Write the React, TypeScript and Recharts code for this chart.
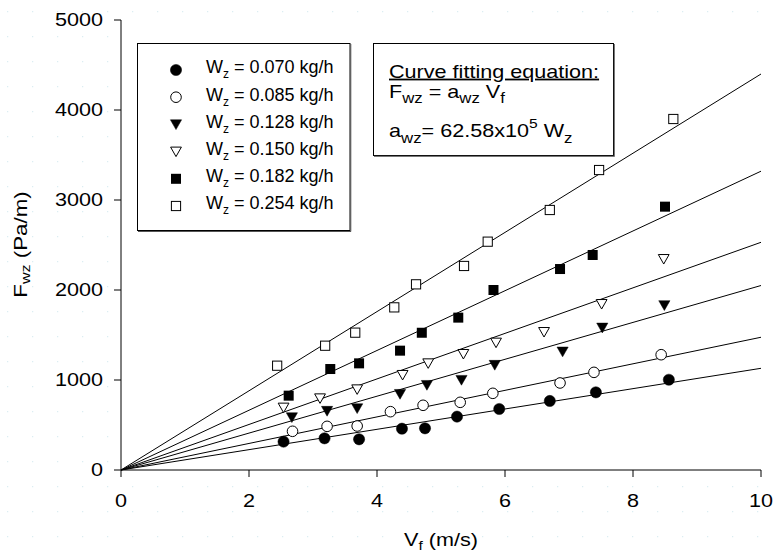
import React from 'react';
import { ScatterChart, Scatter, XAxis, YAxis } from 'recharts';

// ---- data ----
const seriesLabels = ['0.070', '0.085', '0.128', '0.150', '0.182', '0.254'];
const seriesShapes = ['circleFilled', 'circleOpen', 'triDownFilled', 'triDownOpen', 'squareFilled', 'squareOpen'];

const v070 = [2.54, 3.18, 3.72, 4.39, 4.75, 5.25, 5.91, 6.70, 7.42, 8.56];
const f070 = [315, 352, 341, 459, 463, 593, 678, 767, 863, 1003];
const v085 = [2.68, 3.22, 3.69, 4.21, 4.72, 5.30, 5.81, 6.86, 7.39, 8.44];
const f085 = [430, 485, 489, 648, 719, 752, 852, 967, 1085, 1281];
const v128 = [2.67, 3.22, 3.69, 4.36, 4.78, 5.32, 5.84, 6.90, 7.52, 8.49];
const f128 = [585, 656, 685, 844, 944, 1000, 1167, 1315, 1581, 1830];
const v150 = [2.54, 3.11, 3.69, 4.40, 4.80, 5.35, 5.86, 6.61, 7.51, 8.48];
const f150 = [693, 796, 896, 1056, 1185, 1289, 1415, 1533, 1844, 2344];
const v182 = [2.62, 3.27, 3.72, 4.36, 4.70, 5.27, 5.82, 6.86, 7.37, 8.50];
const f182 = [826, 1122, 1185, 1326, 1525, 1693, 2000, 2233, 2389, 2926];
const v254 = [2.44, 3.19, 3.66, 4.27, 4.61, 5.36, 5.73, 6.70, 7.47, 8.63];
const f254 = [1159, 1381, 1526, 1807, 2063, 2267, 2537, 2889, 3333, 3900];

const seriesV = [v070, v085, v128, v150, v182, v254];
const seriesF = [f070, f085, f128, f150, f182, f254];

// fitted slopes a_wz (Pa/m per m/s), lines through origin
const fitSlopes = [113, 147.5, 205, 253, 332, 440];
const fitRange = [0, 10];

const xTicks = [0, 2, 4, 6, 8, 10];
const yTicks = [0, 1000, 2000, 3000, 4000, 5000];

// ---- styling ----
const FONT = '"Liberation Sans", Arial, Helvetica, sans-serif';
const STRETCH = 1.2;

function Marker({ kind, cx, cy }: { kind: string; cx: number; cy: number }) {
  const s = '#000';
  switch (kind) {
    case 'circleFilled':
      return <circle cx={cx} cy={cy} r={5.6} fill={s} stroke={s} strokeWidth={0.5} />;
    case 'circleOpen':
      return <circle cx={cx} cy={cy} r={5.3} fill="#fff" stroke={s} strokeWidth={1} />;
    case 'triDownFilled':
      return <polygon points={`${cx - 5.6},${cy - 4.6} ${cx + 5.6},${cy - 4.6} ${cx},${cy + 5.2}`} fill={s} stroke={s} strokeWidth={0.5} />;
    case 'triDownOpen':
      return <polygon points={`${cx - 5.4},${cy - 4.5} ${cx + 5.4},${cy - 4.5} ${cx},${cy + 5}`} fill="#fff" stroke={s} strokeWidth={1} />;
    case 'squareFilled':
      return <rect x={cx - 5} y={cy - 5} width={10} height={10} fill={s} />;
    default:
      return <rect x={cx - 4.6} y={cy - 4.6} width={9.2} height={9.2} fill="#fff" stroke={s} strokeWidth={1} />;
  }
}

const XTick = (props: any) => {
  const { x, y, payload } = props;
  return (
    <text transform={`translate(${x},${y}) scale(${STRETCH},1)`} textAnchor="middle" dy="0.71em"
      fontFamily={FONT} fontSize={18} fill="#000">{payload.value}</text>
  );
};
const YTick = (props: any) => {
  const { x, y, payload } = props;
  return (
    <text transform={`translate(${x},${y}) scale(${STRETCH},1)`} textAnchor="end" dy="0.355em"
      fontFamily={FONT} fontSize={18} fill="#000">{payload.value}</text>
  );
};

export default function App() {
  const pointData = seriesV.map((vs, i) => vs.map((v, j) => ({ x: v, y: seriesF[i][j] })));
  const lineData = fitSlopes.map((a) => fitRange.map((v) => ({ x: v, y: a * v })));

  return (
    <div style={{ position: 'absolute', left: 0, top: 0, width: 777, height: 556, background: '#fff' }}>
      {/* faint dotted background */}
      <svg width={777} height={556} style={{ position: 'absolute', left: 0, top: 0 }}>
        <defs>
          <pattern id="dots" x={7.2} y={11.2} width={25} height={25} patternUnits="userSpaceOnUse">
            <rect x={0} y={0} width={1} height={1} fill="#c9e3ea" />
          </pattern>
        </defs>
        <rect x={0} y={0} width={777} height={556} fill="url(#dots)" />
        <rect x={121} y={20} width={640} height={450} fill="#fff" />
      </svg>
      <div style={{ position: 'absolute', left: 0, top: 0 }}>
        <ScatterChart width={777} height={556} margin={{ top: 20, right: 16, bottom: 0, left: 0 }}>
          <XAxis dataKey="x" type="number" domain={[0, 10]} ticks={xTicks} height={86}
            tickSize={7} tickMargin={17} tick={<XTick />} stroke="#000"
            axisLine={{ stroke: '#000', strokeWidth: 1 }} tickLine={{ stroke: '#000', strokeWidth: 1 }} />
          <XAxis xAxisId="top" orientation="top" dataKey="x" type="number" domain={[0, 10]} height={0}
            tick={false} tickLine={false} axisLine={{ stroke: '#000', strokeWidth: 1 }} />
          <YAxis dataKey="y" type="number" domain={[0, 5000]} ticks={yTicks} width={121}
            tickSize={7} tickMargin={11} tick={<YTick />} stroke="#000"
            axisLine={{ stroke: '#000', strokeWidth: 1 }} tickLine={{ stroke: '#000', strokeWidth: 1 }} />
          <YAxis yAxisId="right" orientation="right" dataKey="y" type="number" domain={[0, 5000]} width={0}
            tick={false} tickLine={false} axisLine={{ stroke: '#000', strokeWidth: 1 }} />
          {lineData.map((d, i) => (
            <Scatter key={'fit' + i} data={d} line={{ stroke: '#000', strokeWidth: 1 }}
              shape={() => <g />} isAnimationActive={false} legendType="none" />
          ))}
          {pointData.map((d, i) => (
            <Scatter key={'pts' + i} name={seriesLabels[i]} data={d} isAnimationActive={false}
              shape={(p: any) => <Marker kind={seriesShapes[i]} cx={p.cx} cy={p.cy} />} />
          ))}
        </ScatterChart>
      </div>
      {/* overlay: axis labels, legend, annotation */}
      <svg width={777} height={556} style={{ position: 'absolute', left: 0, top: 0, pointerEvents: 'none' }}
        fontFamily={FONT} fill="#000">
        {/* x label */}
        <text transform={`translate(441,546) scale(${STRETCH},1)`} textAnchor="middle" fontSize={18}>
          V<tspan fontSize={13} dy={4}>f</tspan><tspan dy={-4}> (m/s)</tspan>
        </text>
        {/* y label */}
        <text transform={`translate(27,244.5) rotate(-90) scale(1.24,1)`} textAnchor="middle" fontSize={18}>
          F<tspan fontSize={13} dy={3}>wz</tspan><tspan dy={-3}> (Pa/m)</tspan>
        </text>
        {/* legend */}
        <rect x={137.5} y={43.5} width={212.5} height={187} fill="#fff" stroke="#000" strokeWidth={1} />
        <line x1={138} y1={231.5} x2={351} y2={231.5} stroke="#555" strokeWidth={1} />
        <line x1={350.8} y1={44} x2={350.8} y2={231.5} stroke="#555" strokeWidth={1} />
        {seriesLabels.map((lab, i) => (
          <g key={lab}>
            <Marker kind={seriesShapes[i]} cx={176} cy={70 + 27.2 * i} />
            <text x={206} y={73.3 + 27.2 * i} fontSize={18}>
              W<tspan fontSize={12} dy={5}>z</tspan><tspan dy={-5}>{` = ${lab} kg/h`}</tspan>
            </text>
          </g>
        ))}
        {/* annotation box */}
        <rect x={373.5} y={43.5} width={240} height={112} fill="#fff" stroke="#000" strokeWidth={1} />
        <line x1={374} y1={156.3} x2={614.5} y2={156.3} stroke="#555" strokeWidth={1} />
        <line x1={614.3} y1={44} x2={614.3} y2={156.5} stroke="#555" strokeWidth={1} />
        <g transform={`translate(389,0) scale(1.2,1)`} fontSize={18}>
          <text x={0} y={77.7} textDecoration="underline">Curve fitting equation:</text>
          <text x={0} y={98.5}>
            F<tspan fontSize={14} dy={5}>wz</tspan><tspan dy={-5}> = a</tspan><tspan fontSize={14} dy={5}>wz</tspan><tspan dy={-5}> V</tspan><tspan fontSize={14} dy={5}>f</tspan>
          </text>
          <text x={0} y={137.3}>
            a<tspan fontSize={14} dy={6}>wz</tspan><tspan dy={-6}>= 62.58x10</tspan><tspan fontSize={13} dy={-9}>5</tspan><tspan dy={9}> W</tspan><tspan fontSize={14} dy={6}>z</tspan>
          </text>
        </g>
      </svg>
    </div>
  );
}
